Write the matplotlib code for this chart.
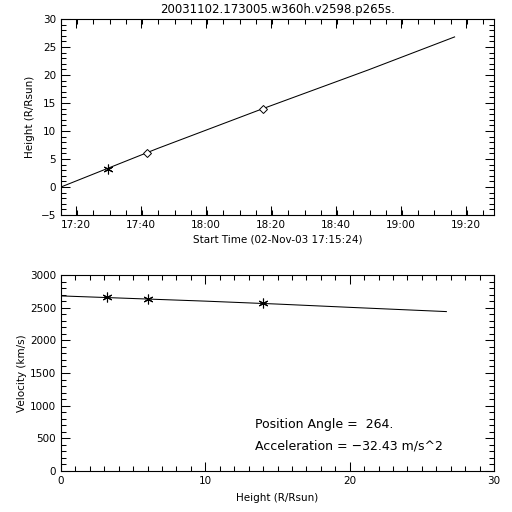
#!/usr/bin/env python

import numpy as np
import matplotlib
matplotlib.use("Agg")
import matplotlib.pyplot as plt
from matplotlib.ticker import MultipleLocator, FuncFormatter

START = "17:15:24"

# height-time fit line and measured points
fit_times = ["17:15:24", "17:45:00", "18:17:36", "18:50:00", "19:16:36"]
fit_heights = [0.0, 6.85, 14.0, 20.9, 26.8]
star_times = ["17:29:48"]
star_heights = [3.2]
diamond_times = ["17:41:48", "18:17:36"]
diamond_heights = [6.0, 14.0]

# velocity vs height
vel_line_h = [0.0, 5.0, 10.0, 15.0, 20.0, 26.7]
vel_line_v = [2680, 2640, 2600, 2555, 2505, 2440]
vel_pts_h = [3.2, 6.0, 14.0]
vel_pts_v = [2660, 2630, 2565]

title = "20031102.173005.w360h.v2598.p265s."
pa_text = "Position Angle =  264."
acc_text = "Acceleration = \u221232.43 m/s^2"


def secs(t):
    h, m, s = (int(p) for p in t.split(":"))
    return h * 3600 + m * 60 + s


t0 = secs(START)


def rel(ts):
    return np.array([secs(t) - t0 for t in ts], dtype=float)


def hhmm(x, pos):
    tot = int(round(x + t0))
    return f"{tot // 3600:02d}:{(tot % 3600) // 60:02d}"


plt.rcParams["font.family"] = "DejaVu Sans"
plt.rcParams["font.size"] = 7.5

fig = plt.figure(figsize=(5.12, 5.12), dpi=100)
ax1 = fig.add_axes([61 / 512, 1 - 215 / 512, 433 / 512, 196 / 512])
ax2 = fig.add_axes([61 / 512, 1 - 471 / 512, 433 / 512, 196 / 512])

for ax in (ax1, ax2):
    ax.tick_params(which="both", direction="in", top=True, right=True,
                   width=0.75, colors="black", labelsize=7.5)
    ax.tick_params(which="major", length=6.5)
    ax.tick_params(which="minor", length=3.5)
    for sp in ax.spines.values():
        sp.set_linewidth(0.8)

# top panel
ax1.plot(rel(fit_times), fit_heights, color="black", lw=0.75)
ax1.plot(rel(star_times), star_heights, ls="none", marker=(6, 2, 0),
         ms=7, mec="black", mew=0.8)
ax1.plot(rel(diamond_times), diamond_heights, ls="none", marker="D",
         ms=4.5, mfc="white", mec="black", mew=0.7)
ax1.set_xlim(0, 8000)
ax1.set_ylim(-5, 30)
first = secs("17:20:00") - t0
ax1.set_xticks(np.arange(first, 8000, 1200))
ax1.xaxis.set_minor_locator(MultipleLocator(300))
ax1.xaxis.set_major_formatter(FuncFormatter(hhmm))
ax1.yaxis.set_major_locator(MultipleLocator(5))
ax1.yaxis.set_minor_locator(MultipleLocator(1))
ax1.set_xlabel("Start Time (02-Nov-03 17:15:24)", labelpad=3)
ax1.set_ylabel("Height (R/Rsun)", labelpad=4)
ax1.set_title(title, fontsize=8.5, pad=4)

# bottom panel
ax2.plot(vel_line_h, vel_line_v, color="black", lw=0.75)
ax2.plot(vel_pts_h, vel_pts_v, ls="none", marker=(6, 2, 0),
         ms=7, mec="black", mew=0.8)
ax2.set_xlim(0, 30)
ax2.set_ylim(0, 3000)
ax2.xaxis.set_major_locator(MultipleLocator(10))
ax2.xaxis.set_minor_locator(MultipleLocator(1))
ax2.yaxis.set_major_locator(MultipleLocator(500))
ax2.yaxis.set_minor_locator(MultipleLocator(100))
ax2.set_xlabel("Height (R/Rsun)", labelpad=5)
ax2.set_ylabel("Velocity (km/s)", labelpad=2)
ax2.text(0.449, 0.235, pa_text, transform=ax2.transAxes, fontsize=9,
         va="center", ha="left")
ax2.text(0.449, 0.13, acc_text, transform=ax2.transAxes, fontsize=9,
         va="center", ha="left")

fig.savefig("out.png", dpi=100, facecolor="white")
